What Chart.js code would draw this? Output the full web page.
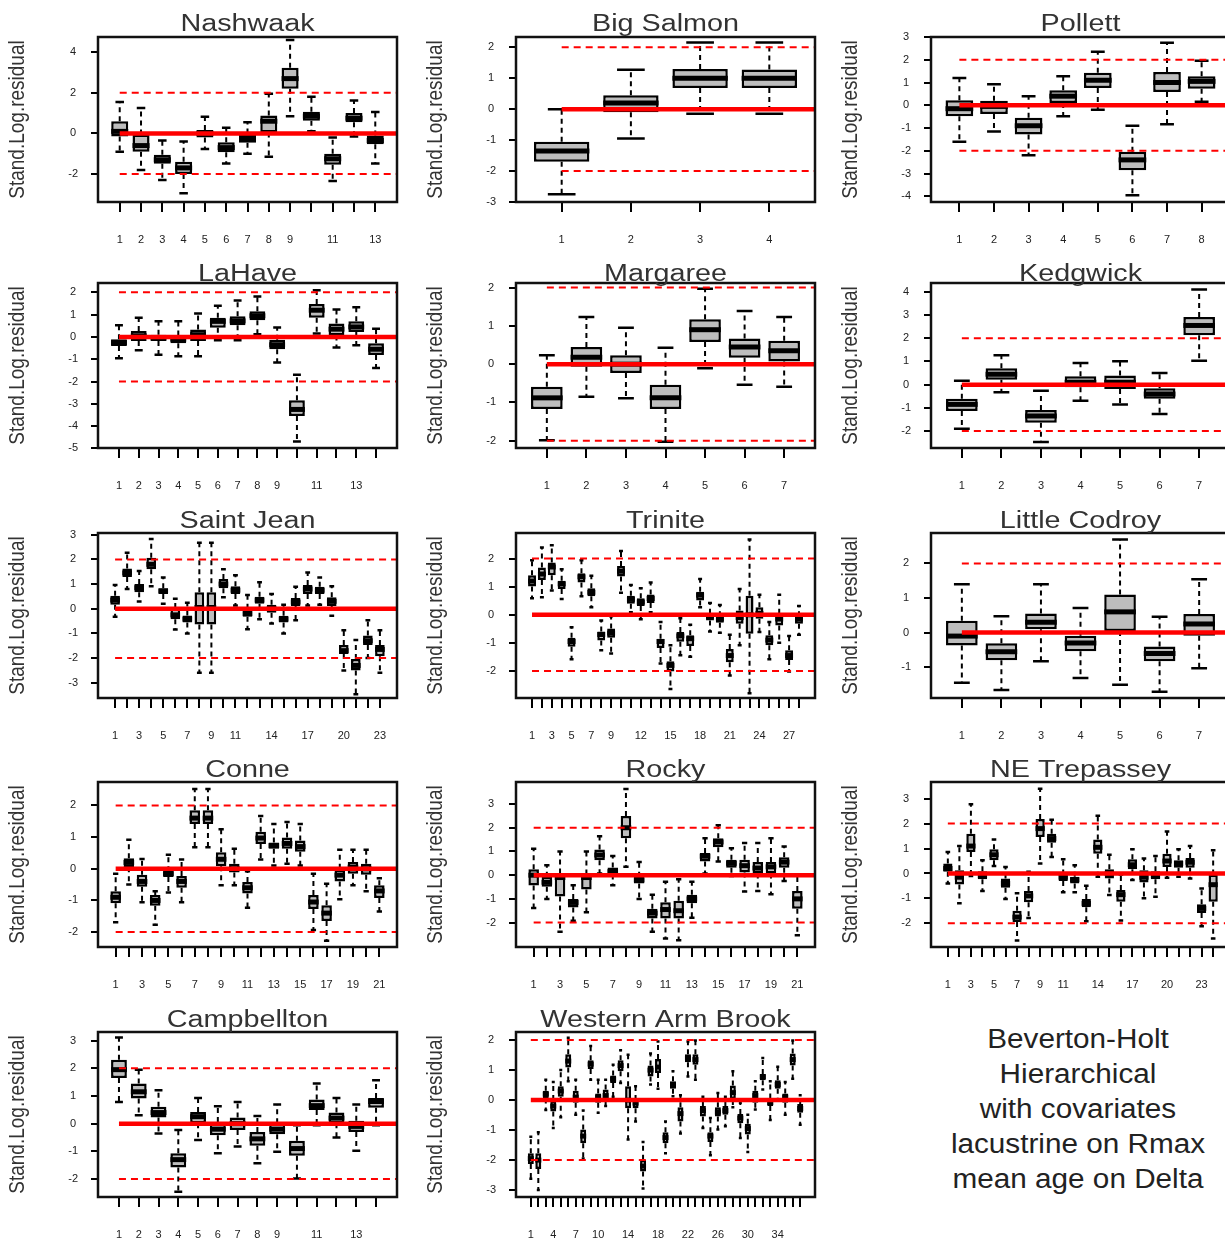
<!DOCTYPE html>
<html><head><meta charset="utf-8">
<script src="https://cdn.jsdelivr.net/npm/chart.js@4.4.1/dist/chart.umd.min.js"></script>
<style>
html,body{margin:0;padding:0;background:#fff;overflow:hidden;}
#wrap{position:relative;width:1225px;height:1247px;overflow:hidden;background:#fff;}
#wrap canvas{position:absolute;}
#note{position:absolute;left:930px;top:1022px;width:296px;text-align:center;font-family:"Liberation Sans",Arial,sans-serif;color:#222;font-size:27px;line-height:35px;}
#note div{transform:scaleX(1.1);}
</style></head><body>
<div id="wrap"><div id="note"><div>Beverton-Holt</div><div>Hierarchical</div><div>with covariates</div><div>lacustrine on Rmax</div><div>mean age on Delta</div></div></div>
<script>
// ---- data: each box = [lower whisker, Q1, median, Q3, upper whisker] ----
const panelTitles = ['Nashwaak','Big Salmon','Pollett','LaHave','Margaree','Kedgwick','Saint Jean','Trinite','Little Codroy','Conne','Rocky','NE Trepassey','Campbellton','Western Arm Brook'];
const yLabelText = 'Stand.Log.residual';
const refLevels = [0, 2, -2];

const nashwaak = [[-0.9,-0.15,0.1,0.6,1.55],[-1.8,-0.9,-0.6,-0.05,1.25],[-2.3,-1.5,-1.3,-1.05,-0.35],[-2.95,-2.0,-1.7,-1.4,-0.4],[-0.77,-0.2,0.0,0.17,0.82],[-1.48,-0.93,-0.7,-0.44,0.28],[-1.0,-0.46,-0.25,0.0,0.55],[-1.15,0.05,0.6,0.88,1.95],[0.85,2.2,2.7,3.23,4.6],[0.1,0.62,0.85,1.07,1.8],[-2.35,-1.55,-1.25,-1.0,-0.2],[-0.15,0.55,0.75,1.0,1.62],[-1.48,-0.54,-0.35,-0.1,1.05]];
const bigSalmon = [[-2.75,-1.7,-1.35,-1.05,0.0],[-0.95,-0.1,0.2,0.45,1.27],[-0.15,0.68,1.0,1.3,2.15],[-0.15,0.68,1.0,1.28,2.15]];
const pollett = [[-1.6,-0.48,-0.15,0.22,1.2],[-1.15,-0.38,-0.05,0.2,0.92],[-2.2,-1.28,-0.9,-0.55,0.4],[-0.48,0.1,0.4,0.66,1.28],[-0.2,0.76,1.1,1.43,2.35],[-3.95,-2.85,-2.4,-2.04,-0.9],[-0.83,0.58,1.0,1.46,2.75],[0.15,0.73,1.05,1.28,1.96]];
const laHave = [[-0.96,-0.4,-0.25,-0.1,0.52],[-0.6,-0.18,0.05,0.27,0.86],[-0.8,-0.18,-0.05,0.1,0.7],[-0.87,-0.28,-0.1,0.07,0.7],[-0.87,-0.18,0.1,0.34,1.05],[-0.15,0.41,0.7,0.86,1.4],[-0.15,0.52,0.72,0.93,1.64],[0.12,0.75,0.95,1.15,1.82],[-1.14,-0.55,-0.35,-0.13,0.42],[-4.69,-3.55,-3.25,-2.84,-1.7],[0.15,0.86,1.2,1.48,2.09],[-0.47,0.07,0.35,0.6,1.23],[-0.37,0.22,0.45,0.71,1.33],[-1.39,-0.81,-0.55,-0.28,0.37]];
const margaree = [[-1.99,-1.17,-0.88,-0.59,0.23],[-0.85,-0.07,0.18,0.45,1.23],[-0.89,-0.23,0.0,0.23,0.95],[-2.03,-1.17,-0.88,-0.54,0.43],[-0.11,0.58,0.9,1.17,1.97],[-0.54,0.17,0.45,0.67,1.39],[-0.59,0.07,0.35,0.61,1.23]];
const kedgwick = [[-1.9,-1.14,-0.85,-0.61,0.17],[-0.33,0.21,0.45,0.71,1.27],[-2.47,-1.64,-1.35,-1.09,-0.26],[-0.69,-0.11,0.1,0.36,0.93],[-0.86,-0.19,0.1,0.39,1.01],[-1.26,-0.61,-0.4,-0.16,0.5],[1.03,2.13,2.55,2.91,4.1]];
const saintJean = [[-0.33,0.16,0.35,0.53,0.96],[0.8,1.29,1.45,1.63,2.27],[0.29,0.67,0.85,1.0,1.53],[0.91,1.6,1.8,2.07,2.83],[0.2,0.6,0.72,0.83,1.27],[-0.84,-0.43,-0.25,0.03,0.4],[-1.0,-0.56,-0.42,-0.27,0.24],[-2.6,-0.64,0.05,0.67,2.67],[-2.6,-0.64,0.05,0.67,2.67],[0.47,0.83,1.0,1.2,1.6],[0.13,0.6,0.75,0.91,1.36],[-0.83,-0.33,-0.2,0.0,0.56],[-0.43,0.2,0.35,0.49,1.07],[-0.6,-0.16,0.0,0.16,0.6],[-1.0,-0.56,-0.42,-0.29,0.16],[-0.47,0.11,0.27,0.43,0.89],[0.13,0.6,0.8,0.96,1.47],[0.16,0.6,0.75,0.89,1.27],[-0.29,0.11,0.3,0.47,0.91],[-2.51,-1.84,-1.7,-1.47,-0.87],[-3.47,-2.51,-2.3,-2.04,-1.27],[-2.0,-1.47,-1.3,-1.09,-0.47],[-2.6,-1.93,-1.65,-1.47,-0.87]];
const trinite = [[0.59,1.01,1.2,1.41,1.94],[0.62,1.24,1.45,1.68,2.39],[0.86,1.41,1.7,1.86,2.47],[0.56,0.92,1.1,1.21,1.62],[-1.58,-1.14,-0.95,-0.82,-0.44],[0.66,1.15,1.35,1.48,1.94],[0.27,0.66,0.8,0.94,1.39],[-1.26,-0.91,-0.7,-0.59,-0.2],[-1.38,-0.82,-0.65,-0.49,-0.05],[0.78,1.36,1.55,1.74,2.27],[0.09,0.39,0.55,0.68,1.06],[-0.16,0.31,0.45,0.59,0.94],[0.09,0.42,0.58,0.72,1.15],[-1.73,-1.18,-0.95,-0.85,-0.26],[-2.64,-2.02,-1.8,-1.65,-1.08],[-1.44,-0.96,-0.75,-0.61,-0.12],[-1.49,-1.11,-0.85,-0.73,-0.35],[0.27,0.51,0.7,0.82,1.27],[-0.59,-0.2,-0.05,0.04,0.42],[-0.64,-0.28,-0.15,-0.05,0.35],[-2.16,-1.69,-1.45,-1.22,-0.71],[-1.08,-0.32,-0.1,0.15,0.92],[-2.79,-0.67,0.0,0.68,2.68],[-0.61,-0.14,0.05,0.27,0.71],[-1.58,-1.08,-0.9,-0.73,-0.26],[-0.99,-0.38,-0.15,0.04,0.71],[-2.02,-1.61,-1.45,-1.26,-0.75],[-0.71,-0.32,-0.15,-0.05,0.31]];
const littleCodroy = [[-1.45,-0.37,-0.1,0.34,1.4],[-1.66,-0.8,-0.55,-0.31,0.47],[-0.83,0.1,0.3,0.55,1.4],[-1.31,-0.54,-0.3,-0.09,0.71],[-1.51,0.05,0.6,1.1,2.69],[-1.71,-0.83,-0.6,-0.4,0.46],[-1.03,-0.09,0.25,0.54,1.54]];
const conne = [[-1.69,-1.09,-0.9,-0.71,-0.16],[-0.5,0.05,0.2,0.33,0.92],[-1.06,-0.57,-0.4,-0.19,0.31],[-1.77,-1.17,-1.0,-0.83,-0.71],[-0.75,-0.26,-0.15,-0.08,0.44],[-1.06,-0.6,-0.4,-0.23,0.29],[0.68,1.41,1.6,1.85,2.52],[0.68,1.41,1.6,1.85,2.52],[-0.52,0.08,0.3,0.52,1.25],[-0.52,-0.12,0.0,0.16,0.63],[-1.23,-0.78,-0.6,-0.42,-0.08],[0.29,0.78,0.97,1.17,1.67],[0.1,0.63,0.73,0.83,1.41],[0.16,0.63,0.8,0.99,1.48],[0.1,0.54,0.7,0.89,1.41],[-1.93,-1.27,-1.05,-0.83,-0.16],[-2.27,-1.65,-1.4,-1.15,-0.47],[-0.96,-0.4,-0.2,0.0,0.6],[-0.52,-0.16,0.05,0.21,0.6],[-0.71,-0.19,0.0,0.16,0.6],[-1.35,-0.92,-0.7,-0.52,-0.3]];
const rocky = [[-1.39,-0.44,0.0,0.25,1.11],[-1.0,-0.49,-0.3,-0.07,0.42],[-2.39,-0.9,-0.1,0.07,1.0],[-1.92,-1.36,-1.15,-1.0,-0.42],[-1.56,-0.6,-0.1,0.03,1.0],[0.07,0.63,0.85,1.08,1.64],[-0.42,0.03,0.15,0.32,0.81],[0.35,1.56,2.0,2.5,3.64],[-1.0,-0.35,-0.2,-0.07,0.56],[-2.39,-1.83,-1.6,-1.42,-0.83],[-2.67,-1.83,-1.45,-1.14,-0.28],[-2.75,-1.83,-1.5,-1.08,-0.17],[-1.8,-1.18,-1.0,-0.83,-0.28],[0.07,0.58,0.8,0.94,1.56],[0.58,1.18,1.4,1.56,2.11],[-0.03,0.31,0.5,0.65,1.14],[-0.69,0.11,0.4,0.65,1.36],[-0.67,0.07,0.3,0.56,1.36],[-0.81,0.07,0.35,0.56,1.56],[-0.25,0.31,0.55,0.76,1.21],[-2.53,-1.42,-1.0,-0.67,0.03]];
const neTrepassey = [[-0.4,0.07,0.2,0.4,0.86],[-1.19,-0.44,-0.15,0.13,1.1],[-0.1,0.86,1.1,1.59,2.78],[-0.7,-0.23,-0.1,0.09,0.53],[0.3,0.53,0.75,0.97,1.36],[-1.02,-0.57,-0.4,-0.2,0.26],[-2.69,-1.95,-1.75,-1.5,-0.79],[-1.79,-1.15,-0.9,-0.7,0.07],[0.4,1.46,1.8,2.19,3.4],[0.66,1.23,1.4,1.59,2.16],[-0.75,-0.3,-0.15,-0.04,0.57],[-0.75,-0.4,-0.25,-0.13,0.33],[-1.92,-1.36,-1.2,-1.02,-0.49],[-0.13,0.79,1.05,1.36,2.32],[-0.86,-0.2,0.0,0.17,0.75],[-1.89,-1.13,-0.85,-0.66,-0.04],[-0.26,0.17,0.35,0.57,0.97],[-0.99,-0.36,-0.15,0.13,0.6],[-0.93,-0.23,-0.1,0.09,0.7],[-0.17,0.26,0.5,0.79,1.68],[-0.13,0.23,0.4,0.53,0.97],[-0.2,0.23,0.45,0.62,1.1],[-2.12,-1.59,-1.4,-1.23,-0.6],[-2.61,-1.13,-0.45,-0.04,0.93]];
const campbellton = [[0.78,1.65,1.95,2.31,3.11],[0.3,0.91,1.15,1.45,1.95],[-0.36,0.22,0.4,0.61,1.21],[-2.46,-1.58,-1.3,-1.07,-0.23],[-0.59,0.01,0.25,0.42,0.93],[-1.07,-0.42,-0.2,0.06,0.63],[-0.83,-0.23,0.0,0.22,0.78],[-1.43,-0.8,-0.55,-0.3,0.28],[-1.02,-0.38,-0.2,0.01,0.69],[-1.98,-1.16,-0.9,-0.62,-0.06],[-0.06,0.49,0.65,0.87,1.45],[-0.5,0.01,0.2,0.4,0.93],[-0.98,-0.3,-0.1,0.1,0.69],[-0.06,0.57,0.8,0.93,1.57]];
const westernArmBrook = [[-2.62,-2.13,-1.95,-1.77,-1.22],[-3.0,-2.3,-2.0,-1.77,-1.07],[-0.33,0.05,0.2,0.31,0.68],[-0.93,-0.38,-0.2,0.0,0.6],[-0.57,0.11,0.3,0.46,1.0],[0.63,1.09,1.3,1.53,2.08],[-0.49,-0.09,0.1,0.31,0.68],[-1.95,-1.44,-1.2,-0.98,-0.35],[0.68,1.04,1.2,1.33,1.8],[-0.42,-0.09,0.1,0.22,0.68],[-0.2,0.0,0.15,0.35,0.68],[0.11,0.57,0.7,0.82,1.18],[0.57,0.96,1.15,1.33,1.66],[-1.31,-0.27,0.0,0.46,1.51],[-0.71,-0.27,-0.1,0.0,0.46],[-2.95,-2.38,-2.2,-1.99,-1.4],[0.52,0.79,1.0,1.15,1.55],[0.38,0.9,1.1,1.37,1.95],[-1.77,-1.44,-1.25,-1.07,-0.71],[0.13,0.38,0.5,0.63,0.96],[-1.11,-0.71,-0.45,-0.24,0.16],[0.79,1.26,1.4,1.53,1.95],[0.68,1.18,1.35,1.53,1.99],[-0.93,-0.55,-0.35,-0.2,0.11],[-1.84,-1.4,-1.2,-1.07,-0.6],[-0.98,-0.55,-0.4,-0.24,0.24],[-0.87,-0.49,-0.35,-0.2,0.11],[-0.24,0.0,0.25,0.49,0.96],[-1.26,-0.77,-0.6,-0.46,-0.09],[-1.73,-1.15,-0.95,-0.79,-0.49],[-0.31,-0.09,0.15,0.31,0.63],[0.35,0.66,0.78,0.87,1.4],[-0.66,-0.2,-0.08,0.05,0.63],[0.0,0.38,0.52,0.66,1.11],[-0.49,-0.09,0.1,0.22,0.6],[0.71,1.15,1.35,1.55,1.99],[-0.82,-0.42,-0.28,-0.13,0.16]];

const statsList = [nashwaak,bigSalmon,pollett,laHave,margaree,kedgwick,saintJean,trinite,littleCodroy,conne,rocky,neTrepassey,campbellton,westernArmBrook];

const yRanges = [[-3.38,4.75],[-3.0,2.33],[-4.25,3.0],[-4.98,2.42],[-2.19,2.12],[-2.73,4.38],[-3.62,3.07],[-2.96,2.91],[-1.89,2.88],[-2.47,2.74],[-3.03,3.93],[-2.95,3.67],[-2.65,3.31],[-3.23,2.27]];
const yTicks = [[-2,0,2,4],[-3,-2,-1,0,1,2],[-4,-3,-2,-1,0,1,2,3],[-5,-4,-3,-2,-1,0,1,2],[-2,-1,0,1,2],[-2,-1,0,1,2,3,4],[-3,-2,-1,0,1,2,3],[-2,-1,0,1,2],[-1,0,1,2],[-2,-1,0,1,2],[-2,-1,0,1,2,3],[-2,-1,0,1,2,3],[-2,-1,0,1,2,3],[-3,-2,-1,0,1,2]];
const xLabels = [
 ['1','2','3','4','5','6','7','8','9','','11','','13'],
 ['1','2','3','4'],
 ['1','2','3','4','5','6','7','8'],
 ['1','2','3','4','5','6','7','8','9','','11','','13',''],
 ['1','2','3','4','5','6','7'],
 ['1','2','3','4','5','6','7'],
 ['1','','3','','5','','7','','9','','11','','','14','','','17','','','20','','','23'],
 ['1','','3','','5','','7','','9','','','12','','','15','','','18','','','21','','','24','','','27',''],
 ['1','2','3','4','5','6','7'],
 ['1','','3','','5','','7','','9','','11','','13','','15','','17','','19','','21'],
 ['1','','3','','5','','7','','9','','11','','13','','15','','17','','19','','21'],
 ['1','','3','','5','','7','','9','','11','','','14','','','17','','','20','','','23',''],
 ['1','2','3','4','5','6','7','8','9','','11','','13',''],
 ['1','','','4','','','7','','','10','','','','14','','','','18','','','','22','','','','26','','','','30','','','','34','','','']
];

// ---- layout ----
const colLeft = [0, 418, 833];
const rowTop = [0, 246, 496, 745, 995];
const titleGap = [6, 2, 5, 5, 5];
const FONT = '"Liberation Sans", Arial, sans-serif';
Chart.defaults.font.family = FONT;

const boxPlugin = {
  id: 'boxdeco',
  beforeDatasetsDraw(chart, args, o) {
    const {ctx, chartArea: a, scales: {x, y}} = chart;
    const half = x.getPixelForValue(1.2) - x.getPixelForValue(1);
    ctx.save();
    ctx.beginPath(); ctx.rect(a.left, a.top, a.width, a.height); ctx.clip();
    ctx.strokeStyle = '#000';
    o.stats.forEach((s, i) => {
      const px = x.getPixelForValue(i + 1);
      const lo = y.getPixelForValue(s[0]), q1 = y.getPixelForValue(s[1]), q3 = y.getPixelForValue(s[3]), hi = y.getPixelForValue(s[4]);
      ctx.setLineDash([5, 4]); ctx.lineWidth = 2;
      ctx.beginPath(); ctx.moveTo(px, q3); ctx.lineTo(px, hi); ctx.moveTo(px, q1); ctx.lineTo(px, lo); ctx.stroke();
      ctx.setLineDash([]); ctx.lineWidth = 2.5;
      ctx.beginPath(); ctx.moveTo(px - half, hi); ctx.lineTo(px + half, hi); ctx.moveTo(px - half, lo); ctx.lineTo(px + half, lo); ctx.stroke();
    });
    ctx.restore();
  },
  afterDatasetDraw(chart, args, o) {
    if (args.index !== 0) return;
    const {ctx, chartArea: a, scales: {x, y}} = chart;
    const half = x.getPixelForValue(1.4) - x.getPixelForValue(1);
    ctx.save();
    ctx.beginPath(); ctx.rect(a.left, a.top, a.width, a.height); ctx.clip();
    ctx.strokeStyle = '#000'; ctx.lineWidth = 5; ctx.lineCap = 'butt';
    o.stats.forEach((s, i) => {
      const px = x.getPixelForValue(i + 1), md = y.getPixelForValue(s[2]);
      ctx.beginPath(); ctx.moveTo(px - half, md); ctx.lineTo(px + half, md); ctx.stroke();
    });
    ctx.restore();
  },
  afterDraw(chart, args, o) {
    const {ctx, chartArea: a} = chart;
    ctx.save();
    ctx.strokeStyle = '#111'; ctx.lineWidth = 2.5;
    ctx.strokeRect(a.left, a.top, a.width, a.height);
    ctx.fillStyle = '#333';
    ctx.font = '23px ' + FONT; ctx.textAlign = 'center'; ctx.textBaseline = 'alphabetic';
    ctx.save(); ctx.translate((a.left + a.right) / 2, a.top - o.gap); ctx.scale(1.25, 1);
    ctx.fillText(o.title, 0, 0); ctx.restore();
    ctx.font = '19px ' + FONT; ctx.textBaseline = 'middle';
    ctx.save(); ctx.translate(a.left - 80, (a.top + a.bottom) / 2); ctx.scale(1.2, 1); ctx.rotate(-Math.PI / 2);
    ctx.fillText(yLabelText, 0, 0); ctx.restore();
    ctx.restore();
  }
};
Chart.register(boxPlugin);

const wrap = document.getElementById('wrap');
statsList.forEach((stats, i) => {
  const n = stats.length, col = i % 3, row = Math.floor(i / 3);
  const cv = document.createElement('canvas');
  cv.width = 410; cv.height = 250;
  cv.style.left = colLeft[col] + 'px'; cv.style.top = rowTop[row] + 'px';
  cv.style.width = '410px'; cv.style.height = '250px';
  wrap.appendChild(cv);
  const xMin = 0.5 - 0.04 * n, xMax = n + 0.5 + 0.04 * n;
  const datasets = [{
    type: 'bar',
    data: stats.map((s, k) => ({x: k + 1, y: [s[1], s[3]]})),
    backgroundColor: '#bdbdbd', borderColor: '#000', borderWidth: 2.5, borderSkipped: false,
    barPercentage: 0.8, categoryPercentage: 1, order: 2
  }];
  refLevels.forEach(lv => datasets.push({
    type: 'line', data: [{x: 1, y: lv}, {x: xMax, y: lv}],
    borderColor: '#ff0000', borderWidth: lv === 0 ? 4.5 : 2, borderDash: lv === 0 ? [] : [7, 5],
    pointRadius: 0, fill: false, tension: 0, order: lv === 0 ? 0 : 1
  }));
  new Chart(cv, {
    type: 'bar',
    data: {datasets},
    options: {
      responsive: false, animation: false, events: [], devicePixelRatio: 1,
      layout: {padding: {top: 37, right: 13, bottom: 0, left: 0}},
      plugins: {legend: {display: false}, tooltip: {enabled: false},
        boxdeco: {stats, title: panelTitles[i], gap: titleGap[row]}},
      scales: {
        x: {
          type: 'linear', min: xMin, max: xMax, offset: false,
          afterBuildTicks: s => { s.ticks = stats.map((_, k) => ({value: k + 1})); },
          afterFit: s => { s.height = 48; s.paddingLeft = 0; s.paddingRight = 0; },
          grid: {display: true, drawOnChartArea: false, drawTicks: true, tickLength: 10, lineWidth: 2, color: '#000', offset: false},
          border: {display: false},
          ticks: {autoSkip: false, maxRotation: 0, minRotation: 0, padding: 21, font: {size: 11}, color: '#222',
            callback: (v, k) => xLabels[i][k]}
        },
        y: {
          type: 'linear', min: yRanges[i][0], max: yRanges[i][1], beginAtZero: false,
          afterBuildTicks: s => { s.ticks = yTicks[i].map(v => ({value: v})); },
          afterFit: s => { s.width = 98; s.paddingTop = 0; s.paddingBottom = 0; },
          grid: {display: true, drawOnChartArea: false, drawTicks: true, tickLength: 7, lineWidth: 2, color: '#000'},
          border: {display: false},
          ticks: {padding: 13, crossAlign: 'center', font: {size: 11}, color: '#222', callback: v => String(v)}
        }
      }
    }
  });
});
</script>
</body></html>
